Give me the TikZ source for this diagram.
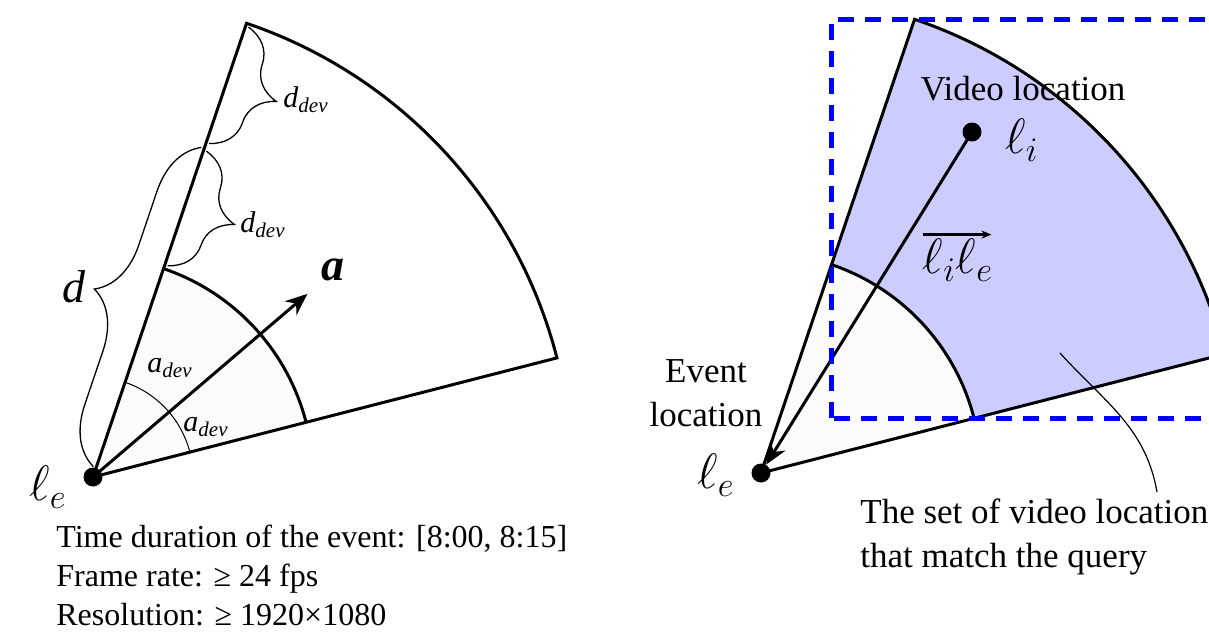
\documentclass[tikz,border=0pt]{standalone}
\usepackage{amsmath}
\usepackage{fontspec}
\setmainfont{Liberation Serif}
\usepackage{tikz}
\usetikzlibrary{arrows.meta, decorations.pathreplacing}

\begin{document}
\begin{tikzpicture}[
    x=0.5pt, y=0.5pt,
    >={Stealth[length=11pt, width=9pt]},
    edge/.style={line width=1.5pt},
    angmark/.style={line width=0.5pt},
    dot/.style={circle, fill, inner sep=0pt, minimum size=9.5pt},
    curly/.style={line width=0.65pt, decorate,
                  decoration={brace, amplitude=#1, raise=1.5pt}},
    mlabel/.style={font=\fontsize{23}{27}\selectfont, inner sep=1pt},
    slabel/.style={font=\fontsize{15}{18}\selectfont, inner sep=1pt},
    info/.style={font=\fontsize{16}{19}\selectfont, inner sep=0pt, anchor=base west},
    note/.style={font=\fontsize{17.5}{22}\selectfont, inner sep=0pt},
    nearfill/.style={fill=black!1.5},
    matchfill/.style={fill=blue!20},
    querybox/.style={draw=blue, line width=2.2pt, dash pattern=on 8pt off 5.5pt},
    leader/.style={line width=0.6pt},
    vecbar/.style={line width=1.6pt, -{Stealth[length=5pt, width=4pt]}},
]
  \useasboundingbox (0,0) rectangle (1209,634);
  \clip (0,0) rectangle (1209,634);

  % left: the query cone
  \begin{scope}[shift={(93,157)}]
    \fill[nearfill] (0,0) -- (14.4:220) arc[start angle=14.4, end angle=71.3, radius=220] -- cycle;
    \draw[edge] (71.3:479) -- (0,0) -- (14.4:479)
        arc[start angle=14.4, end angle=71.3, radius=479] -- cycle;
    \draw[edge] (14.4:220) arc[start angle=14.4, end angle=71.3, radius=220];
    \draw[angmark] (14.4:100) arc[start angle=14.4, end angle=71.3, radius=100];
    \node[dot] (le) at (0,0) {};
    \coordinate (dir) at (40.5:282);
    \draw[edge, ->] (le.center) -- (dir);
    \draw[curly=25pt] (71.3:476) -- (71.3:353);
    \draw[curly=25pt] (71.3:345) -- (71.3:224);
    \draw[curly=28pt] (71.3:10) -- (71.3:347);
  \end{scope}

  \node[mlabel] (lelbl) at (48,147) {$\ell_e$};
  \node[mlabel] (alabel) at (333,364) {\textbf{\textit{a}}};
  \node[mlabel] (dlabel) at (74,347) {\textit{d}};
  \node[slabel] (ddevtop) at (306,534) {$\textit{d}_{\textit{dev}}$};
  \node[slabel] (ddevlow) at (263,409) {$\textit{d}_{\textit{dev}}$};
  \node[slabel] (adevtop) at (170,266) {$\textit{a}_{\textit{dev}}$};
  \node[slabel] (adevlow) at (206,207) {$\textit{a}_{\textit{dev}}$};

  \node[info] (dur) at (56,87) {Time duration of the event: [8:00, 8:15]};
  \node[info] (fps) at (56,48) {Frame rate: ≥ 24 fps};
  \node[info] (res) at (56,9) {Resolution: ≥ 1920×1080};

  % right: matching video locations
  \begin{scope}[shift={(761,161)}]
    \fill[matchfill] (14.4:220) -- (14.4:479)
        arc[start angle=14.4, end angle=71.3, radius=479]
        -- (71.3:220) arc[start angle=71.3, end angle=14.4, radius=220] -- cycle;
    \fill[nearfill] (0,0) -- (14.4:220) arc[start angle=14.4, end angle=71.3, radius=220] -- cycle;
    \draw[edge] (71.3:479) -- (0,0) -- (14.4:479)
        arc[start angle=14.4, end angle=71.3, radius=479] -- cycle;
    \draw[edge] (14.4:220) arc[start angle=14.4, end angle=71.3, radius=220];
    \coordinate (inA) at (71.3:220);
    \coordinate (inB) at (14.4:220);
    \coordinate (outA) at (71.3:479);
    \coordinate (outB) at (14.4:479);
    \node[dot] (le2) at (0,0) {};
  \end{scope}

  \node[dot] (li) at (972,502) {};
  \draw[edge, ->] (li.center) -- (le2);

  \node[note, anchor=base] (vidlbl) at (1023,534) {Video location};
  \node[mlabel] (lilbl) at (1022,494) {$\ell_i$};
  \node[mlabel] (veclbl) at (958,374) {$\ell_i\ell_e$};
  \draw[vecbar] ([xshift=1pt, yshift=1pt]veclbl.north west) -- ([xshift=-2pt, yshift=1pt]veclbl.north east);
  \node[note, align=center] (evlbl) at (706,241) {Event\\location};
  \node[mlabel] (le2lbl) at (716,159) {$\ell_e$};
  \node[note, align=left, anchor=north west] (setlbl) at (860,136)
      {The set of video location\\that match the query};

  \coordinate (setpt) at (1060,281);
  \draw[leader] (setpt) to[out=-48, in=100] ([xshift=148.5pt, yshift=3pt]setlbl.north west);

  \draw[querybox] (inA |- inB) rectangle (outB |- outA);
\end{tikzpicture}
\end{document}
